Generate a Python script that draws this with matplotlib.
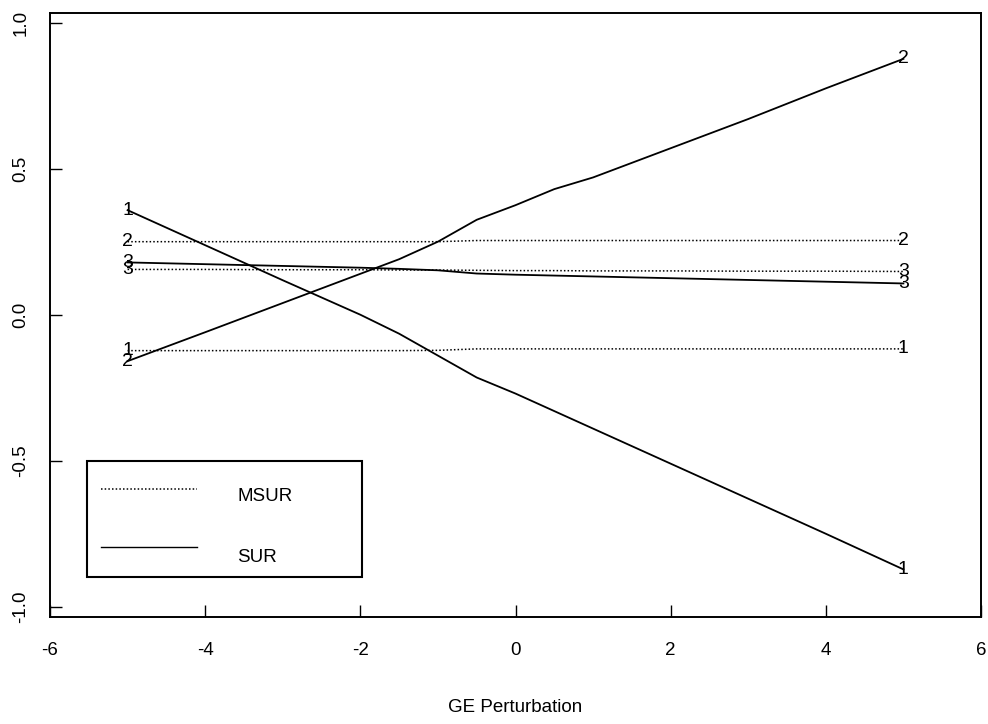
import matplotlib
matplotlib.use("Agg")
import matplotlib.pyplot as plt
from matplotlib.patches import Rectangle
from matplotlib.lines import Line2D

plt.rcParams['font.family'] = ['Liberation Sans', 'DejaVu Sans']

# perturbation grid
ge_perturbation = [-5, -4, -3, -2, -1.5, -1, -0.5, 0, 0.5, 1, 2, 3, 4, 5]

# SUR estimates (solid lines), equations 1-3
sur_1 = [0.358, 0.238, 0.118, 0.0, -0.065, -0.14, -0.215, -0.27, -0.33, -0.39, -0.51, -0.63, -0.75, -0.872]
sur_2 = [-0.159, -0.06, 0.04, 0.14, 0.19, 0.25, 0.325, 0.375, 0.43, 0.47, 0.57, 0.67, 0.775, 0.876]
sur_3 = [0.179, 0.173, 0.167, 0.161, 0.157, 0.152, 0.141, 0.137, 0.134, 0.131, 0.125, 0.119, 0.113, 0.107]

# MSUR estimates (dotted lines), equations 1-3
msur_1 = [-0.123, -0.123, -0.123, -0.123, -0.123, -0.122, -0.117, -0.117, -0.117, -0.117, -0.117, -0.117, -0.117, -0.117]
msur_2 = [0.250, 0.250, 0.250, 0.250, 0.250, 0.250, 0.254, 0.254, 0.254, 0.254, 0.254, 0.254, 0.254, 0.254]
msur_3 = [0.155, 0.155, 0.154, 0.154, 0.153, 0.153, 0.152, 0.151, 0.151, 0.150, 0.150, 0.149, 0.149, 0.148]

series_labels = ["1", "2", "3"]
x_ticks = [-6, -4, -2, 0, 2, 4, 6]
y_ticks = [-1.0, -0.5, 0.0, 0.5, 1.0]

DOTTED = (0, (1.0, 1.4))
FS = 13.5

fig = plt.figure(figsize=(9.88, 7.24), dpi=100)
ax = fig.add_axes([50 / 988, 1 - 617 / 724, 931 / 988, 604 / 724])

for values in [msur_1, msur_2, msur_3]:
    ax.plot(ge_perturbation, values, color="black", lw=1.1, linestyle=DOTTED)
for values in [sur_1, sur_2, sur_3]:
    ax.plot(ge_perturbation, values, color="black", lw=1.3)

# number labels at both ends of every line
for values, lab in zip([msur_1, msur_2, msur_3, sur_1, sur_2, sur_3], series_labels * 2):
    for i in (0, -1):
        ax.text(ge_perturbation[i], values[i], lab, ha="center", va="center",
                fontsize=14, color="black")

ax.set_xlim(-6, 6)
ax.set_ylim(-1.035, 1.033)
ax.set_xticks(x_ticks)
ax.set_xticklabels([str(t) for t in x_ticks])
ax.set_yticks(y_ticks)
ax.set_yticklabels([f"{t:.1f}" for t in y_ticks], rotation=90, va="center")
ax.tick_params(axis="x", direction="in", length=8.5, width=1.0, pad=18, labelsize=FS)
ax.tick_params(axis="y", direction="in", length=8.5, width=1.0, pad=15, labelsize=FS)
for side in ax.spines.values():
    side.set_linewidth(1.4)

ax.set_xlabel("GE Perturbation", fontsize=FS, labelpad=29)

# legend box, drawn by hand to match the original layout
ax.add_patch(Rectangle((0.0397, 0.0662), 0.2954, 0.1921, transform=ax.transAxes,
                       fill=False, edgecolor="black", lw=1.5))
ax.add_line(Line2D([0.0548, 0.1579], [0.2119, 0.2119], transform=ax.transAxes,
                   color="black", lw=1.1, linestyle=DOTTED))
ax.add_line(Line2D([0.0548, 0.1579], [0.1159, 0.1159], transform=ax.transAxes,
                   color="black", lw=1.0))
ax.text(0.2009, 0.1987, "MSUR", transform=ax.transAxes, va="center", ha="left", fontsize=FS)
ax.text(0.2009, 0.0993, "SUR", transform=ax.transAxes, va="center", ha="left", fontsize=FS)

fig.savefig("out.png", dpi=100)
